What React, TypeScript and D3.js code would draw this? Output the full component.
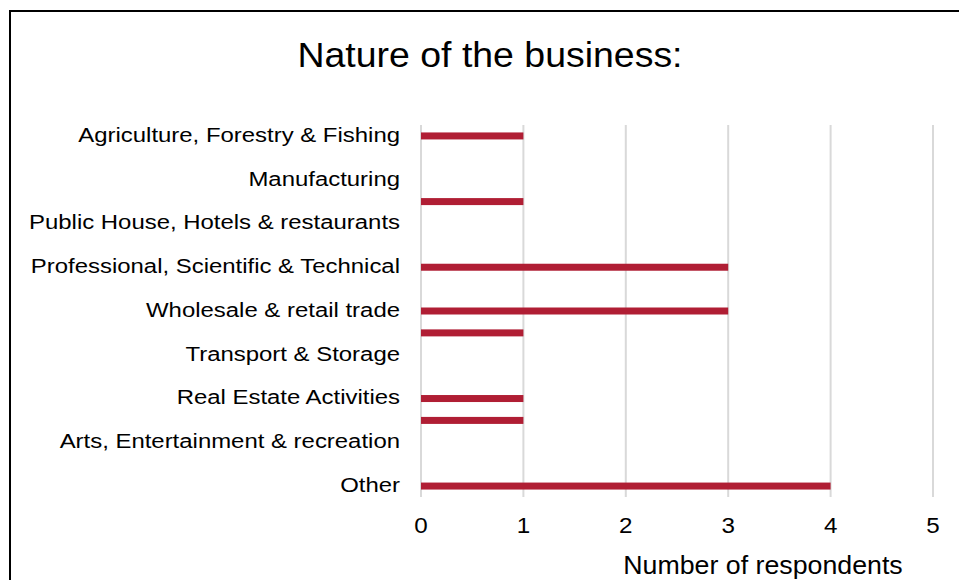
import React from "react";
import * as d3 from "d3";

// 17 category slots (Excel shows every other label)
const categories: string[] = [
  "Agriculture, Forestry & Fishing",
  "Mining & Quarrying",
  "Manufacturing",
  "Construction",
  "Public House, Hotels & restaurants",
  "Information & Communication",
  "Professional, Scientific & Technical",
  "Financial & Insurance",
  "Wholesale & retail trade",
  "Education",
  "Transport & Storage",
  "Health & Social Work",
  "Real Estate Activities",
  "Administrative & Support",
  "Arts, Entertainment & recreation",
  "Utilities",
  "Other",
];
const values: number[] = [1, 0, 0, 1, 0, 0, 3, 0, 3, 1, 0, 0, 1, 1, 0, 0, 4];
const xTicks: number[] = [0, 1, 2, 3, 4, 5];
const title = "Nature of the business:";
const xAxisTitle = "Number of respondents";

function SText(props: {
  x: number;
  y: number;
  sx: number;
  size: number;
  anchor: "start" | "middle" | "end";
  children: React.ReactNode;
}) {
  return (
    <g transform={`translate(${props.x},${props.y}) scale(${props.sx},1)`}>
      <text x={0} y={0} textAnchor={props.anchor} fontSize={props.size} fill="#000">
        {props.children}
      </text>
    </g>
  );
}

export default function App() {
  const W = 959;
  const H = 580;
  const x = d3.scaleLinear().domain([0, 5]).range([421, 933]);
  const y = d3
    .scaleBand<number>()
    .domain(categories.map((_, i) => i))
    .range([125, 497])
    .paddingInner(0.68)
    .paddingOuter(0.34);
  const font = "Liberation Sans, Arial, sans-serif";
  const mid = (i: number) => (y(i) as number) + y.bandwidth() / 2;
  return (
    <svg
      width={W}
      height={H}
      style={{ position: "absolute", left: 0, top: 0 }}
      fontFamily={font}
    >
      <rect x={0} y={0} width={W} height={H} fill="#fff" />
      <rect x={10} y={11} width={W + 20} height={H + 20} fill="none" stroke="#000" strokeWidth={2} />
      <SText x={490} y={67} sx={1.07} size={35} anchor="middle">
        {title}
      </SText>
      {xTicks.map((t) => (
        <line key={"g" + t} x1={x(t)} x2={x(t)} y1={125} y2={497} stroke="#d9d9d9" strokeWidth={2} />
      ))}
      {categories.map((c, i) => {
        const v = values[i];
        if (!v) return null;
        const bw = 7;
        const cy = mid(i);
        return (
          <rect key={"b" + i} x={x(0)} y={cy - bw / 2} width={x(v) - x(0)} height={bw} fill="#b01e34" />
        );
      })}
      {categories.map((c, i) =>
        i % 2 === 0 ? (
          <SText key={"l" + i} x={400} y={mid(i) + 5.8} sx={1.14} size={21} anchor="end">
            {c}
          </SText>
        ) : null
      )}
      {xTicks.map((t) => (
        <SText key={"t" + t} x={x(t)} y={533} sx={1.1} size={22} anchor="middle">
          {t}
        </SText>
      ))}
      <SText x={763} y={574} sx={1.07} size={25} anchor="middle">
        {xAxisTitle}
      </SText>
    </svg>
  );
}
